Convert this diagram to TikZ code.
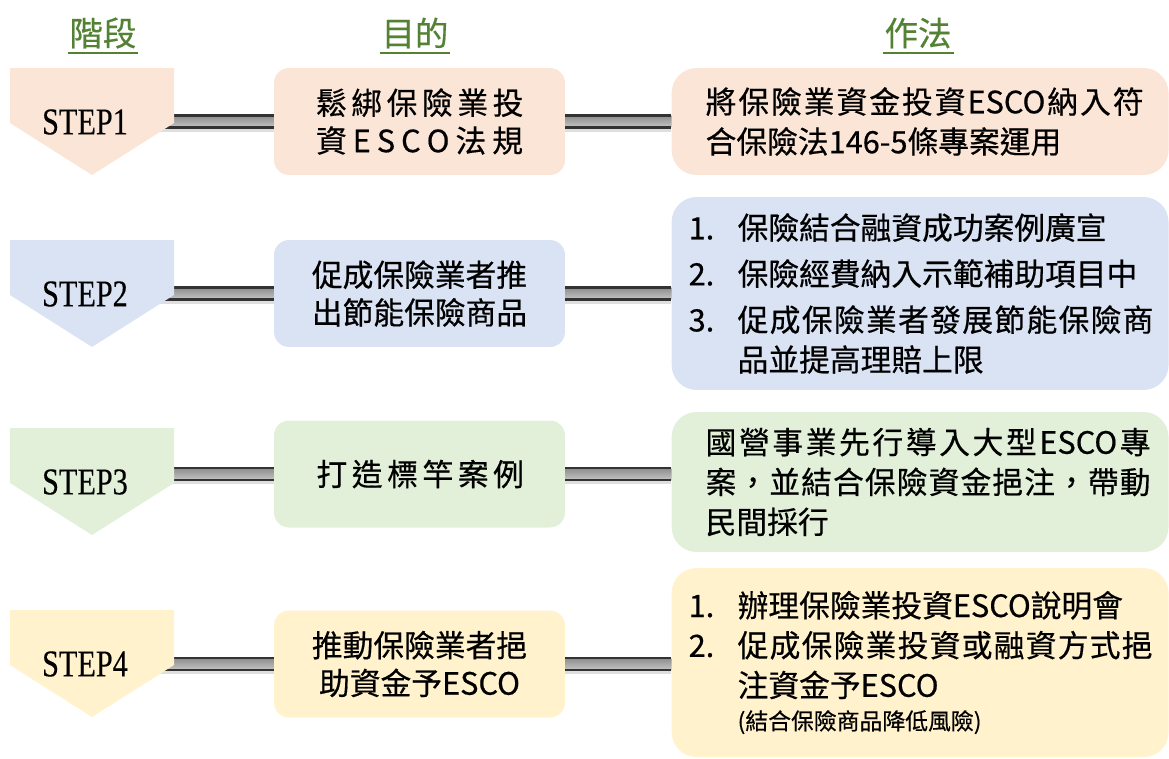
\documentclass[tikz,border=0pt]{standalone}
\usepackage{fontspec}
\setmainfont{Noto Sans CJK TC}[FakeBold=0.5]
\newfontfamily\stepfont[FakeStretch=0.8,FakeBold=0.3]{Liberation Serif}
\usetikzlibrary{backgrounds,calc,positioning}
\definecolor{peach}{HTML}{FBE5D6}
\definecolor{skyish}{HTML}{DAE3F3}
\definecolor{mint}{HTML}{E2F0D9}
\definecolor{cream}{HTML}{FFF2CC}
\definecolor{leaf}{HTML}{548235}
\newcommand\itm[1]{\makebox[0.98cm][l]{#1}}
\newcommand\cont{\hspace*{0.98cm}}
\newcommand\ind{\hspace*{0.34cm}}
\newcommand\spread[2]{\makebox[#1][s]{\spaceskip=0pt plus 1fil\xspaceskip=0pt plus 1fil\relax #2}}
% grey rod between two points
\newcommand\rodbar[2]{%
	\fill[gray!25] ($(#1)+(0,6)$) rectangle ($(#2)+(0,10)$);
	\shade[top color=gray!90, bottom color=gray!45] ($(#1)+(0,-6)$) rectangle ($(#2)+(0,6)$);
	\draw[black!80, line width=1.3pt] ($(#1)+(0,-6)$) -- ($(#2)+(0,-6)$) ($(#1)+(0,6)$) -- ($(#2)+(0,6)$);
}
\tikzset{%
	head/.style     = {font=\fontsize{19}{23}\selectfont, text=leaf, inner xsep=1pt, inner ysep=2.5pt},
	headline/.style = {draw=leaf, line width=1.1pt},
	steptag/.style  = {font=\stepfont\fontsize{21.5}{24}\selectfont, inner sep=0pt},
	aim/.style      = {rectangle, rounded corners=0.3cm, minimum width=5.82cm, minimum height=2.14cm, align=center, font=\fontsize{17.5}{21.5}\selectfont},
	way/.style      = {rectangle, rounded corners=0.5cm, text width=9.26cm, inner xsep=0.34cm, align=left, font=\fontsize{17.5}{22.7}\selectfont},
}

\begin{document}
\begin{tikzpicture}[x=0.02cm, y=-0.02cm]
	\useasboundingbox (0,0) rectangle (1169,758);
	% headings
	\node[head] (h1) at (103,33) {階段};
	\node[head] (h2) at (415,33) {目的};
	\node[head] (h3) at (918,33) {作法};
	\foreach \h in {h1,h2,h3}
		\draw[headline] (\h.south west) -- (\h.south east);
	% steps
	\foreach \n/\t/\c in {1/68/peach, 2/240/skyish, 3/428/mint, 4/610/cream} {
		\fill[\c] (10,\t) -- (174,\t) -- (174,\t+55) -- (92,\t+107) -- (10,\t+55) -- cycle;
		\node[steptag] (s\n) at (85,\t+54) {STEP\n};
	}
	% aims
	\node[aim, fill=peach] (a1) at (419.5,121.5) {\makebox[4.14cm][s]{鬆 綁 保 險 業 投}\\\makebox[4.14cm][s]{資 E S C O 法 規}};
	\node[aim, fill=skyish] (a2) at (419.5,293.5) {促成保險業者推\\出節能保險商品};
	\node[aim, fill=mint] (a3) at (419.5,474) {\makebox[4.12cm][s]{打 造 標 竿 案 例}};
	\node[aim, fill=cream] (a4) at (419.5,664) {推動保險業者挹\\助資金予ESCO};
	% ways
	\node[way, fill=peach, minimum height=2.14cm, right=2.12cm of a1] (w1) {\ind\spread{8.76cm}{將 保 險 業 資 金 投 資 ESCO 納 入 符}\\\ind 合保險法146-5條專案運用};
	\node[way, fill=skyish, minimum height=3.86cm, right=2.12cm of a2] (w2) {\itm{1.}保險結合融資成功案例廣宣\\[3.5pt]\itm{2.}保險經費納入示範補助項目中\\[3.5pt]\itm{3.}\spread{8.32cm}{促 成 保 險 業 者 發 展 節 能 保 險 商}\\\cont 品並提高理賠上限};
	\node[way, fill=mint, minimum height=2.8cm, right=2.12cm of a3, yshift=-0.16cm] (w3) {\ind\spread{8.9cm}{國 營 事 業 先 行 導 入 大 型 ESCO 專}\\\ind\spread{8.9cm}{案 ， 並 結 合 保 險 資 金 挹 注 ， 帶 動}\\\ind 民間採行};
	\node[way, fill=cream, minimum height=3.78cm, right=2.12cm of a4, yshift=0.03cm] (w4) {\itm{1.}辦理保險業投資ESCO說明會\\\itm{2.}\spread{8.3cm}{促 成 保 險 業 投 資 或 融 資 方 式 挹}\\\cont 注資金予ESCO\\[-4pt]\cont{\fontsize{13}{16}\selectfont (結合保險商品降低風險)}};
	% rods
	\begin{scope}[on background layer]
		\foreach \n in {1,...,4} {
			\coordinate (p\n) at (s\n.center |- a\n.west);
			\coordinate (q\n) at (w\n.west |- a\n.east);
			\rodbar{p\n}{a\n.west}
			\rodbar{a\n.east}{q\n}
		}
	\end{scope}
\end{tikzpicture}
\end{document}
